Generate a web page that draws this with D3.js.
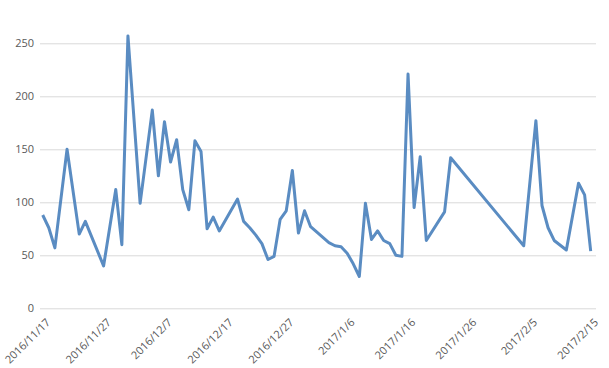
<!DOCTYPE html>
<html>
<head>
<meta charset="utf-8">
<script src="https://cdn.jsdelivr.net/npm/d3@7"></script>
<style>
  html, body { margin: 0; padding: 0; background: #fff; }
  svg { display: block; }
  .axis text { font-family: "Open Sans", "Liberation Sans", sans-serif; font-size: 11px; fill: #595959; }
</style>
</head>
<body>
<svg id="chart" width="609" height="368"></svg>
<script>
const dates = ["2016/11/17","2016/11/18","2016/11/19","2016/11/21","2016/11/23","2016/11/24","2016/11/27","2016/11/29","2016/11/30",
  "2016/12/1","2016/12/3","2016/12/5","2016/12/6","2016/12/7","2016/12/8","2016/12/9","2016/12/10","2016/12/11","2016/12/12",
  "2016/12/13","2016/12/14","2016/12/15","2016/12/16","2016/12/19","2016/12/20","2016/12/21","2016/12/22","2016/12/23","2016/12/24",
  "2016/12/25","2016/12/26","2016/12/27","2016/12/28","2016/12/29","2016/12/30","2016/12/31","2017/1/3","2017/1/4","2017/1/5",
  "2017/1/6","2017/1/7","2017/1/8","2017/1/9","2017/1/10","2017/1/11","2017/1/12","2017/1/13","2017/1/14","2017/1/15",
  "2017/1/16","2017/1/17","2017/1/18","2017/1/19","2017/1/22","2017/1/23","2017/2/4","2017/2/6","2017/2/7","2017/2/8",
  "2017/2/9","2017/2/11","2017/2/13","2017/2/14","2017/2/15"];
const values = [88,76,57,150,70,82,40,112,60,
  257,99,187,125,176,138,159,112,93,158,
  148,75,86,73,103,82,76,69,61,46,
  49,84,92,130,71,92,77,62,59,58,
  52,42,30,99,65,73,64,61,50,49,
  221,95,143,64,91,142,59,177,97,76,
  64,55,118,107,54];
const xTickLabels = ["2016/11/17","2016/11/27","2016/12/7","2016/12/17","2016/12/27","2017/1/6","2017/1/16","2017/1/26","2017/2/5","2017/2/15"];
const yTicks = [0,50,100,150,200,250];

const parse = d3.timeParse("%Y/%m/%d");
const fmt = d => `${d.getFullYear()}/${d.getMonth()+1}/${d.getDate()}`;
const data = dates.map((d, i) => ({ date: parse(d), value: values[i] }));

const svg = d3.select("#chart");
const gridLeft = 40, gridRight = 596;
const x = d3.scaleTime()
  .domain([parse("2016/11/17"), parse("2017/2/15")])
  .range([42.7, 590.7]);
const y = d3.scaleLinear().domain([0, 250]).range([308.3, 43.3]);

// Y axis with gridlines
const yAxis = svg.append("g")
  .attr("class", "axis")
  .attr("transform", `translate(${gridLeft},0)`)
  .call(d3.axisLeft(y).tickValues(yTicks).tickSize(-(gridRight - gridLeft)).tickPadding(6));
yAxis.select(".domain").remove();
yAxis.selectAll("line").attr("stroke", "#d9d9d9").attr("stroke-width", 1);

// X axis labels
const xAxis = svg.append("g")
  .attr("class", "axis")
  .attr("transform", `translate(0,${y(0)})`)
  .call(d3.axisBottom(x).tickValues(xTickLabels.map(parse)).tickFormat(fmt).tickSize(0));
xAxis.select(".domain").remove();
xAxis.selectAll("text")
  .attr("x", 0).attr("y", 0).attr("dy", "0.35em")
  .attr("text-anchor", "end")
  .attr("transform", "translate(5,12) rotate(-45)");

// Line
const line = d3.line().x(d => x(d.date)).y(d => y(d.value));
svg.append("path")
  .datum(data)
  .attr("fill", "none")
  .attr("stroke", "#5a8cc2")
  .attr("stroke-width", 3)
  .attr("stroke-linejoin", "round")
  .attr("d", line);
</script>
</body>
</html>
